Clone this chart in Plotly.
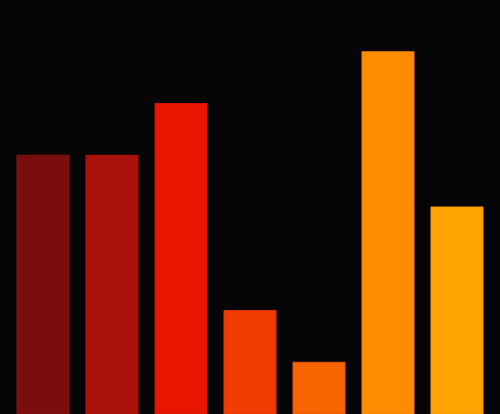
import plotly.graph_objects as go

categories = ["A", "B", "C", "D", "E", "F", "G"]
values = [5, 5, 6, 2, 1, 7, 4]
colors = ["#7a0e0e", "#a81008", "#e81600", "#f03c00", "#f86400", "#ff8c00", "#ffa400"]
outline = ["#8a1010", "#b01208", "#d81400", "#e03400", "#e85400", "#f08000", "#f09800"]

fig = go.Figure(go.Bar(
    x=list(range(len(categories))),
    y=values,
    marker=dict(color=colors, line=dict(color=outline, width=1)),
    hoverinfo="skip",
))
fig.update_layout(
    width=500, height=414,
    margin=dict(l=0, r=0, t=0, b=0),
    paper_bgcolor="#050508", plot_bgcolor="#050508",
    bargap=17/69,
    showlegend=False,
    xaxis=dict(range=[-43/69, -43/69 + 500/69], visible=False, showgrid=False, zeroline=False),
    yaxis=dict(range=[0, 8], visible=False, showgrid=False, zeroline=False),
)
fig.write_html(
    "out.html",
    config={"displayModeBar": False},
    post_script="document.body.style.margin='0';document.body.style.background='#050508';document.body.style.overflow='hidden';document.documentElement.style.overflow='hidden';",
)
